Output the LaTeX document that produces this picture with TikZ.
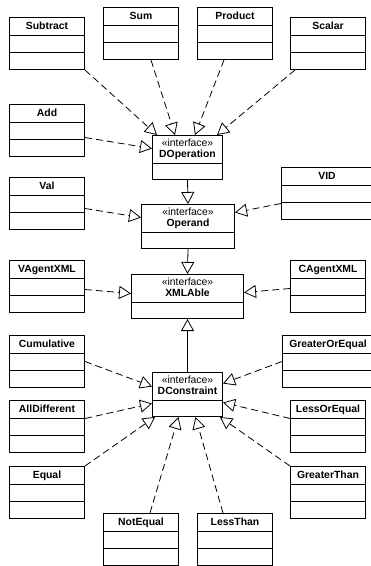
\documentclass[tikz,border=0pt]{standalone}
\usepackage{fontspec}
\setmainfont{Liberation Sans}
\usetikzlibrary{arrows.meta,calc}

\tikzset{
  classframe/.style={draw, line width=1pt, fill=white, inner sep=0pt, anchor=north west},
  rule/.style={line width=1pt},
  ctitle/.style={font=\fontsize{10.4}{12}\selectfont\bfseries, inner sep=0pt, anchor=base},
  stereo/.style={font=\fontsize{10.4}{12}\selectfont, inner sep=0pt, anchor=base},
  realize/.style={line width=0.8pt, dash pattern=on 7pt off 4pt,
    -{Triangle[open,length=12pt,width=13pt,line width=0.8pt]}},
  extend/.style={line width=0.8pt,
    -{Triangle[open,length=12pt,width=13pt,line width=0.8pt]}},
}

% plain class: name, left, top, title; optional width
\newcommand\umlclass[5][75]{%
  \node[classframe, minimum width=#1pt, minimum height=52pt] (#2) at (#3,#4) {};
  \draw[rule] ($(#2.north west)+(0,18)$) -- ($(#2.north east)+(0,18)$);
  \draw[rule] ($(#2.north west)+(0,35)$) -- ($(#2.north east)+(0,35)$);
  \node[ctitle] at ($(#2.north)+(0,12.5)$) {#5};
}
% interface: name, left, top, width, title
\newcommand\umliface[5]{%
  \node[classframe, minimum width=#4pt, minimum height=44pt] (#1) at (#2,#3) {};
  \draw[rule] ($(#1.north west)+(0,28)$) -- ($(#1.north east)+(0,28)$);
  \node[stereo] at ($(#1.north)+(0,11.5)$) {«interface»};
  \node[ctitle] at ($(#1.north)+(0,22.5)$) {#5};
}

\begin{document}
\begin{tikzpicture}[x=1pt, y=-1pt]
\useasboundingbox (0,0) rectangle (371,566);
\clip (0,0) rectangle (371,566);

% interfaces
\umliface{DOperation}{152}{135}{70}{DOperation}
\umliface{Operand}{141}{204}{93}{Operand}
\umliface{XMLAble}{131}{274}{112}{XMLAble}
\umliface{DConstraint}{152}{372}{70}{DConstraint}

% classes
\umlclass{Subtract}{9}{17}{Subtract}
\umlclass{Sum}{103}{7}{Sum}
\umlclass{Product}{197}{7}{Product}
\umlclass{Scalar}{290}{17}{Scalar}
\umlclass{Add}{9}{104}{Add}
\umlclass{Val}{9}{177}{Val}
\umlclass[91]{VID}{281}{167}{VID}
\umlclass{VAgentXML}{9}{260}{VAgentXML}
\umlclass{CAgentXML}{290}{260}{CAgentXML}
\umlclass{Cumulative}{9}{335}{Cumulative}
\umlclass[91]{GreaterOrEqual}{282}{335}{GreaterOrEqual}
\umlclass{AllDifferent}{9}{400}{AllDifferent}
\umlclass{LessOrEqual}{290}{400}{LessOrEqual}
\umlclass{Equal}{9}{466}{Equal}
\umlclass{GreaterThan}{290}{466}{GreaterThan}
\umlclass{NotEqual}{103}{513}{NotEqual}
\umlclass{LessThan}{197}{513}{LessThan}

% operations realize DOperation
\draw[realize] (Subtract.south east) -- ($(DOperation.north west)+(5,0)$);
\draw[realize] ($(Sum.south)+(10,0)$) -- ($(DOperation.north west)+(23,0)$);
\draw[realize] ($(Product.south)+(-11,0)$) -- ($(DOperation.north west)+(43,0)$);
\draw[realize] ($(Scalar.south west)+(5,0)$) -- ($(DOperation.north west)+(65,0)$);
\draw[realize] ($(Add.east)+(0,7)$) -- ($(DOperation.west)+(0,-9)$);

% operand hierarchy
\draw[extend] (DOperation.south) -- (Operand.north);
\draw[realize] ($(Val.east)+(0,5)$) -- ($(Operand.west)+(0,-9)$);
\draw[realize] ($(VID.west)+(0,10)$) -- ($(Operand.east)+(0,-14)$);

\draw[extend] (Operand.south) -- (XMLAble.north);
\draw[realize] ($(VAgentXML.east)+(0,3)$) -- ($(XMLAble.west)+(0,-3)$);
\draw[realize] ($(CAgentXML.west)+(0,2)$) -- ($(XMLAble.east)+(0,-4)$);

% constraints
\draw[extend] (DConstraint.north) -- (XMLAble.south);
\draw[realize] (Cumulative.east) -- ($(DConstraint.west)+(0,-8)$);
\draw[realize] (GreaterOrEqual.west) -- ($(DConstraint.east)+(0,-11)$);
\draw[realize] ($(AllDifferent.east)+(0,-8)$) -- ($(DConstraint.west)+(0,9)$);
\draw[realize] ($(LessOrEqual.west)+(0,-8)$) -- ($(DConstraint.east)+(0,8)$);
\draw[realize] (Equal.north east) -- ($(DConstraint.south west)+(3,0)$);
\draw[realize] (GreaterThan.north west) -- ($(DConstraint.south east)+(-3,0)$);
\draw[realize] ($(NotEqual.north)+(9,0)$) -- ($(DConstraint.south)+(-9,0)$);
\draw[realize] ($(LessThan.north)+(-12,0)$) -- ($(DConstraint.south)+(8,0)$);
\end{tikzpicture}
\end{document}
